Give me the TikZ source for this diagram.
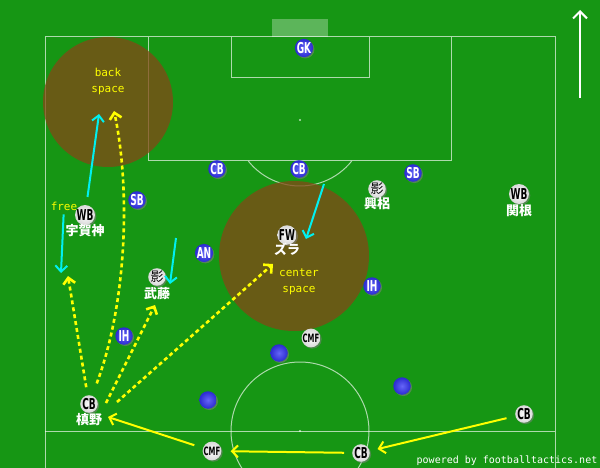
\documentclass[tikz,border=0pt]{standalone}
\usepackage{fontspec}
\usepackage{tikz}
\usetikzlibrary{arrows.meta}
\usetikzlibrary{positioning}
\usetikzlibrary{shadows}
\newfontfamily\jpfont{Noto Sans CJK JP}
\newfontfamily\monofont{DejaVu Sans Mono}
\newfontfamily\tagfont[FakeStretch=0.6]{DejaVu Sans}
\definecolor{pitch}{RGB}{22,150,20}
\definecolor{spacebrown}{RGB}{132,72,22}
\definecolor{runcyan}{RGB}{0,240,240}
\definecolor{passyellow}{RGB}{255,255,0}
\definecolor{oppblue}{RGB}{50,50,245}
\tikzset{
  fieldline/.style={white, draw opacity=0.65, line width=1pt},
  space/.style={fill=spacebrown, fill opacity=0.75},
  player/.style={circle, inner sep=0pt, minimum size=17.5pt,
    font=\tagfont\bfseries\fontsize{15}{15}\selectfont,
    drop shadow={shadow xshift=1.3pt, shadow yshift=-1.3pt, opacity=0.55}},
  opp/.style={player, inner color=oppblue!75!white, outer color=oppblue!85!black, text=white},
  own/.style={player, inner color=white, outer color=white!85!black, text=black},
  cmf/.style={own, font=\tagfont\bfseries\fontsize{11.5}{11.5}\selectfont},
  pname/.style={text=white, inner sep=0pt, node distance=16pt,
    font=\jpfont\bfseries\fontsize{13}{13}\selectfont},
  spacetext/.style={text=passyellow, align=center, inner sep=0pt,
    font=\monofont\fontsize{11}{16}\selectfont},
  run/.style={runcyan, line width=2pt, -{Straight Barb[length=6pt,width=12pt]}},
  pass/.style={passyellow, line width=2.6pt, dash pattern=on 4pt off 3pt,
    -{Straight Barb[length=6pt,width=12pt]}},
  carry/.style={passyellow, line width=2pt, -{Straight Barb[length=6pt,width=12pt]}}
}

\begin{document}
\begin{tikzpicture}[x=1pt, y=-1pt]
\clip (0,0) rectangle (600,468);
\fill [pitch] (0,0) rectangle (600,468);

% pitch markings
\draw [fieldline] (45,480) -- (45,37) -- (555,37) -- (555,480);
\draw [fieldline] (45,431) -- (555,431);
\draw [fieldline] (148,37) |- (451,161) -- (451,37);
\draw [fieldline] (231,37) |- (369,78) -- (369,37);
\draw [fieldline] (300,120) ++(38.4:66) arc [start angle=38.4, end angle=141.6, radius=66];
\draw [fieldline] (300,431) circle (69);
\fill [white, opacity=0.7] (300,120) circle (1.2);
\fill [white, opacity=0.7] (300,431) circle (1.2);
\fill [white, opacity=0.3] (272,19) rectangle (328,37);

% spaces
\fill [space] (108,102) circle (65);
\fill [space] (294,256) circle (75);
\node (back) [spacetext] at (108,81) {back\\space};
\node (center) [spacetext] at (299,282) {center\\space};
\node (free) [spacetext] at (64,206) {free};

% attack direction
\coordinate (up0) at (580,98);
\coordinate (up1) at (580,10);
\draw [white, line width=2pt, -{Straight Barb[length=7pt,width=14pt]}] (up0) -- (up1);

% opponents
\node (gk)  [opp] at (304,48)  {GK};
\node (cbo1) [opp] at (217,169) {CB};
\node (cbo2) [opp] at (299,169) {CB};
\node (sbo1) [opp] at (413,173) {SB};
\node (sbo2) [opp] at (137,200) {SB};
\node (an)  [opp] at (204,253) {AN};
\node (ih1) [opp] at (372,286) {IH};
\node (ih2) [opp] at (124,336) {IH};
\node (bo1) [opp] at (279,353) {};
\node (bo2) [opp] at (208,400) {};
\node (bo3) [opp] at (402,386) {};

% runs
\coordinate (r1) at (99,114);
\coordinate (r2) at (61,273);
\coordinate (r3s) at (176,238);
\coordinate (r3) at (170,284);
\coordinate (r4s) at (324,184);
\coordinate (r4) at (306,239);

% passes
\coordinate (pa) at (114,111);
\coordinate (pb) at (68,276);
\coordinate (pcs) at (106,403);
\coordinate (pc) at (155,305);
\coordinate (pds) at (117,402);
\coordinate (pd) at (273,264);
\coordinate (pg) at (108,417);

% own team
\node (wbl)  [own] at (85,215)  {WB};
\node (kage1) [own] at (157,277) {\jpfont\mdseries\fontsize{13}{13}\selectfont 影};
\node (fw)   [own] at (287,235) {FW};
\node (kage2) [own] at (377,189) {\jpfont\mdseries\fontsize{13}{13}\selectfont 影};
\node (wbr)  [own] at (519,194) {WB};
\node (cmf1) [cmf] at (311,338) {CMF};
\node (cbl)  [own] at (89,404)  {CB};
\node (cmfl) [cmf] at (212,451) {CMF};
\node (cbm)  [own] at (361,453) {CB};
\node (cbr)  [own] at (524,414) {CB};

\node (ugajin) [pname, below of=wbl] {宇賀神};
\node (muto)   [pname, below of=kage1, node distance=17pt] {武藤};
\node (zura)   [pname, below of=fw, node distance=14pt] {ズラ};
\node (koroki) [pname, below of=kage2, node distance=15pt] {興梠};
\node (sekine) [pname, below of=wbr, node distance=17pt] {関根};
\node (makino) [pname, below of=cbl] {槙野};

\draw [run, shorten <=8pt] (wbl) -- (r1);
\draw [run, shorten <=4pt] (free) -- (r2);
\draw [run] (r3s) -- (r3);
\draw [run] (r4s) -- (r4);

\draw [pass, shorten <=13pt] (cbl) .. controls (128,300) and (130,185) .. (pa);
\draw [pass, shorten <=8pt] (cbl) -- (pb);
\draw [pass] (pcs) -- (pc);
\draw [pass] (pds) -- (pd);

\draw [carry, shorten <=9pt, shorten >=8pt] (cbr) -- (cbm);
\draw [carry, shorten <=8pt, shorten >=9pt] (cbm) -- (cmfl);
\draw [carry, shorten <=9pt] (cmfl) -- (pg);

\node (credit) [text=white, inner sep=0pt, font=\monofont\fontsize{10}{10}\selectfont] at (507,461) {powered by footballtactics.net};
\end{tikzpicture}
\end{document}
